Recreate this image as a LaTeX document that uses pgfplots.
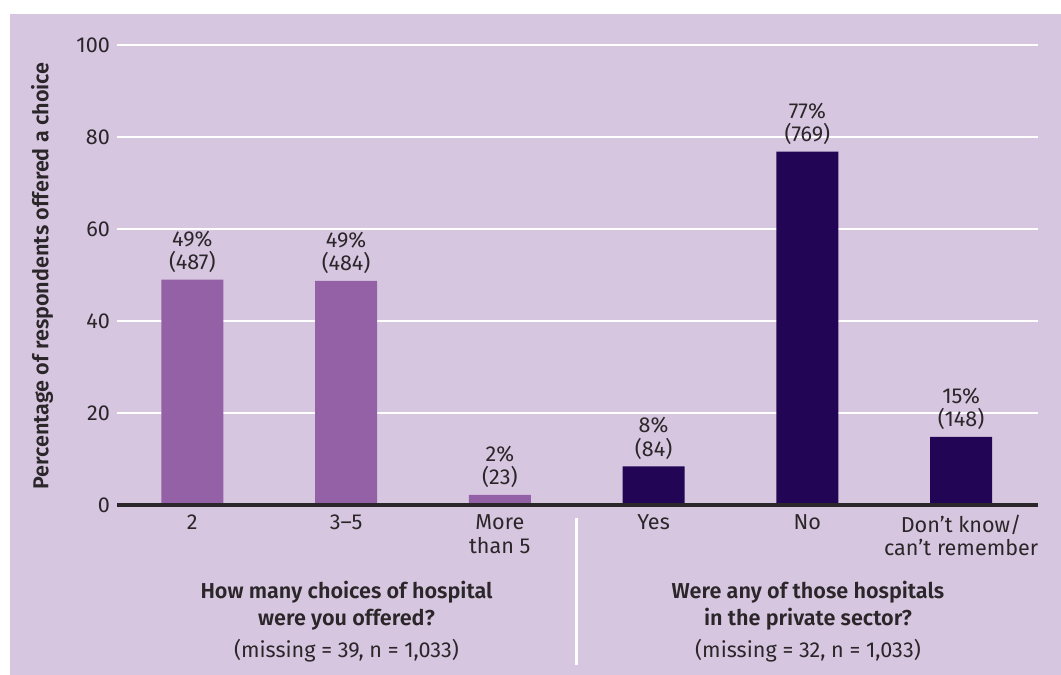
\documentclass[border=0pt]{standalone}
\usepackage{pgfplots}
\pgfplotsset{compat=1.18}
\usepackage{fontspec}
\setmainfont{Fira Sans}[BoldFont={Fira Sans SemiBold}]
\definecolor{bg}{HTML}{D7C6E0}
\definecolor{barA}{HTML}{9460A6}
\definecolor{barB}{HTML}{230556}
\definecolor{txt}{HTML}{2B2629}
\newcommand{\f}{\fontsize{10.8}{11.6}\selectfont}
\begin{document}
\begin{tikzpicture}
\path[use as bounding box] (0,0) rectangle (530.5pt,337.5pt);
\fill[white] (0,0) rectangle (530.5pt,337.5pt);
\fill[bg] (5pt,0) rectangle (530.5pt,330.5pt);
\begin{axis}[
  at={(58.5pt,85pt)}, anchor=south west, scale only axis,
  width=460.5pt, height=230pt,
  xmin=-0.49, xmax=5.5, ymin=0, ymax=100,
  ytick={0,20,...,100}, xtick={0,...,5},
  xticklabels={2, 3--5, {More\\than 5}, Yes, No, {Don’t know/\\can’t remember}},
  axis lines=left, axis line style={draw=none},
  major tick length=0pt,
  ymajorgrids, grid style={white, line width=1pt},
  tick label style={font=\f, text=txt},
  xticklabel style={align=center, yshift=-1.5pt},
  /pgf/number format/assume math mode=true,
  ybar, bar width=31pt, bar shift=0pt,
  clip=false,
  nodes near coords={\pct\%\\(\nn)},
  every node near coord/.append style={font=\f, text=txt, align=center},
  visualization depends on={value \thisrow{p} \as \pct},
  visualization depends on={value \thisrow{n} \as \nn},
]
\addplot[fill=barA, draw=none] table {
x y p n
0 49.0 49 487
1 48.7 49 484
2 2.2 2 23
};
\addplot[fill=barB, draw=none] table {
x y p n
3 8.4 8 84
4 76.8 77 769
5 14.8 15 148
};
\draw[line width=2pt, color=txt] (axis cs:-0.49,0) -- (axis cs:5.5,0);
\end{axis}
\node[font=\f\bfseries, rotate=90, text=txt] at (21pt,199.5pt) {Percentage of respondents offered a choice};
\node[font=\fontsize{10.8}{13.5}\selectfont\bfseries, align=center, text=txt] at (173.25pt,34.75pt) {How many choices of hospital\\were you offered?};
\node[font=\f, text=txt] at (173.25pt,12pt) {(missing = 39, n = 1,033)};
\node[font=\fontsize{10.8}{13.5}\selectfont\bfseries, align=center, text=txt] at (404pt,34.75pt) {Were any of those hospitals\\in the private sector?};
\node[font=\f, text=txt] at (404pt,12pt) {(missing = 32, n = 1,033)};
\draw[white, line width=1.5pt] (288.4pt,78.5pt) -- (288.4pt,5pt);
\end{tikzpicture}
\end{document}
